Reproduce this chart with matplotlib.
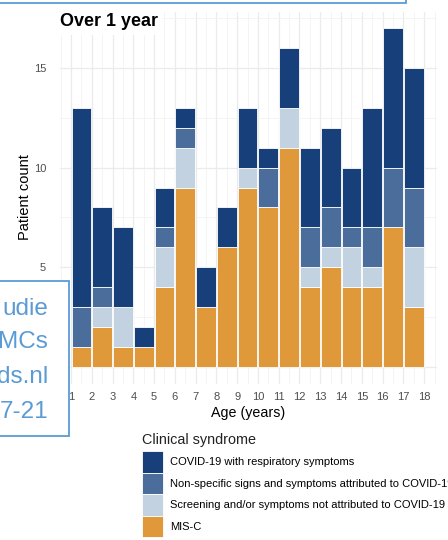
import numpy as np
import matplotlib.pyplot as plt
from matplotlib.patches import Rectangle, Patch

plt.rcParams['font.family'] = ['Liberation Sans', 'DejaVu Sans']

# age bins (left edge of each one-year bin)
ages = list(range(1, 18))
age_ticks = list(range(1, 19))

# patient counts per syndrome, bottom to top of each stack
misc = [1, 2, 1, 1, 4, 9, 3, 6, 9, 8, 11, 4, 5, 4, 4, 7, 3]
screening = [0, 1, 2, 0, 2, 2, 0, 0, 1, 0, 2, 1, 1, 2, 1, 0, 3]
nonspecific = [2, 1, 0, 0, 1, 1, 0, 0, 0, 2, 0, 2, 2, 1, 2, 3, 3]
respiratory = [10, 4, 4, 1, 2, 1, 2, 2, 3, 1, 3, 4, 4, 3, 6, 7, 6]

labels = ['COVID-19 with respiratory symptoms',
          'Non-specific signs and symptoms attributed to COVID-19',
          'Screening and/or symptoms not attributed to COVID-19',
          'MIS-C']
colors = ['#173F7A', '#4A6D9B', '#C3D2E0', '#DF993B']

W, H = 448, 540
fig = plt.figure(figsize=(W / 100, H / 100), dpi=100)

def fx(px):
    return px / W

def fy(py):
    return 1 - py / H

ax = fig.add_axes([fx(60), fy(383.6), fx(437) - fx(60), fy(11.5) - fy(383.6)])

x = np.array(ages) + 0.5
bottom = np.zeros(len(ages))
stack = [misc, screening, nonspecific, respiratory]
stack_colors = colors[::-1]
for vals, c in zip(stack, stack_colors):
    ax.bar(x, vals, width=0.95, bottom=bottom, color=c, edgecolor='white', linewidth=0.6, zorder=3)
    bottom += np.array(vals)

ax.set_xlim(0.47, 18.62)
ax.set_ylim(-0.85, 17.85)
ax.set_xticks(age_ticks)
ax.set_xticks(np.arange(0.5, 19, 1), minor=True)
ax.set_yticks([0, 5, 10, 15])
ax.set_yticks([2.5, 7.5, 12.5, 17.5], minor=True)
ax.grid(which='major', color='#EBEBEB', linewidth=0.9, zorder=0)
ax.grid(which='minor', color='#F3F3F3', linewidth=0.6, zorder=0)
ax.tick_params(which='both', length=0, labelsize=8, labelcolor='#4D4D4D')
ax.tick_params(axis='x', pad=6)
ax.tick_params(axis='y', pad=10)
for s in ax.spines.values():
    s.set_visible(False)

ax.set_xlabel('Age (years)', fontsize=10.3, labelpad=3)
ax.set_ylabel('Patient count', fontsize=10.5, labelpad=1)

ax.text(0, 0.995, 'Over 1 year', transform=ax.transAxes, fontsize=13, fontweight='bold',
        va='top', ha='left', zorder=5,
        bbox=dict(facecolor='white', edgecolor='none', pad=3))

handles = [Patch(facecolor=c, edgecolor='white', linewidth=0.6) for c in colors]
leg = fig.legend(handles, labels, loc='upper left', bbox_to_anchor=(fx(142), fy(433)),
                 frameon=False, title='Clinical syndrome', fontsize=8.0,
                 title_fontsize=10.4, handlelength=1.9, handleheight=2.6,
                 labelspacing=0.0, handletextpad=0.65, borderpad=0, borderaxespad=0)
leg._legend_box.align = 'left'
leg._legend_box.sep = 3
leg.get_title().set_color('#222222')

# overlay boxes from the screenshot
blue = '#5B9BD5'
fig.patches.append(Rectangle((fx(-5), fy(3)), fx(406) - fx(-5), fy(-5) - fy(3),
                             transform=fig.transFigure, facecolor='none',
                             edgecolor=blue, linewidth=1.3, zorder=10))
fig.patches.append(Rectangle((fx(-5), fy(436)), fx(69) - fx(-5), fy(281) - fy(436),
                             transform=fig.transFigure, facecolor='white',
                             edgecolor=blue, linewidth=1.3, zorder=10))
overlay_lines = ['udie', 'MCs', 'ds.nl', '7-21']
overlay_y = [309, 342, 377, 412]
for t, yy in zip(overlay_lines, overlay_y):
    fig.text(fx(48), fy(yy), t, ha='right', va='center', fontsize=17.5,
             color=blue, zorder=11)

fig.savefig('out.png', dpi=100)
